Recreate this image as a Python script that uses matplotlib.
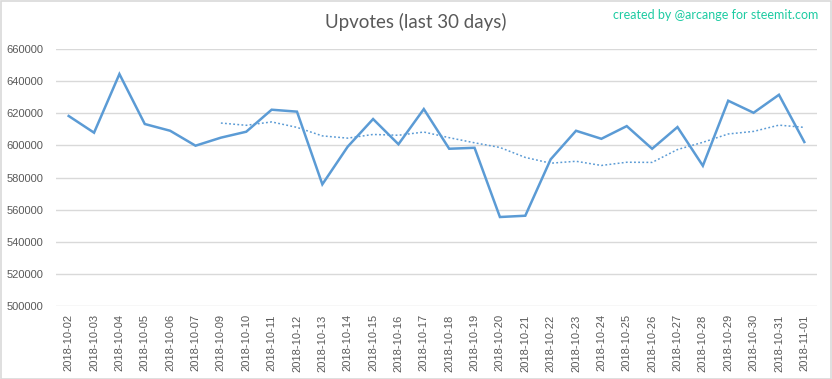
import matplotlib
matplotlib.use("Agg")
import matplotlib.pyplot as plt
from matplotlib.patches import Rectangle

dates = ["2018-10-02", "2018-10-03", "2018-10-04", "2018-10-05", "2018-10-06", "2018-10-07",
         "2018-10-09", "2018-10-10", "2018-10-11", "2018-10-12", "2018-10-13", "2018-10-14",
         "2018-10-15", "2018-10-16", "2018-10-17", "2018-10-18", "2018-10-19", "2018-10-20",
         "2018-10-21", "2018-10-22", "2018-10-23", "2018-10-24", "2018-10-25", "2018-10-26",
         "2018-10-27", "2018-10-28", "2018-10-29", "2018-10-30", "2018-10-31", "2018-11-01"]

upvotes = [618300, 607900, 644400, 613300, 609100, 599800, 604800, 608500, 622200, 621000,
           575750, 599200, 616400, 600700, 622600, 597900, 598500, 555400, 556200, 591300,
           609100, 604100, 612000, 597900, 611400, 587300, 627800, 620300, 631500, 602100]

# 7-period moving average trendline, starting at 2018-10-09
trend_start = 6
trend = [613900, 612500, 614600, 611200, 605900, 604500, 606800, 606300, 608300, 604800,
         601600, 598700, 592500, 588900, 590100, 587500, 589500, 589400, 597400, 601900,
         607100, 608700, 612600, 611200]

yticks = [500000, 520000, 540000, 560000, 580000, 600000, 620000, 640000, 660000]

plt.rcParams['font.family'] = ['Liberation Sans', 'DejaVu Sans']

fig = plt.figure(figsize=(8.32, 3.79), dpi=100)
ax = fig.add_axes([56/832, 73/379, (817-56)/832, (306-49)/379])

x = list(range(len(dates)))
ax.plot(x, upvotes, color='#5B9BD5', lw=1.8, solid_joinstyle='miter', zorder=3)
tx = x[trend_start:trend_start + len(trend)]
ax.plot(tx, trend, color='#5B9BD5', lw=1.1, linestyle=(0, (1.2, 1.5)), zorder=2)

ax.set_xlim(-0.5, len(dates) - 0.5)
ax.set_ylim(500000, 660000)
ax.set_yticks(yticks)
ax.set_yticklabels([str(v) for v in yticks])
ax.set_xticks(x)
ax.set_xticklabels(dates, rotation=90)
ax.tick_params(axis='both', length=0, labelsize=8, labelcolor='#595959')
ax.tick_params(axis='y', pad=9)
ax.tick_params(axis='x', pad=6)
ax.grid(axis='y', color='#D9D9D9', lw=1)
ax.set_axisbelow(True)
for s in ax.spines.values():
    s.set_visible(False)

fig.text(416/832, 1 - 22/379, "Upvotes (last 30 days)", ha='center', va='center',
         fontsize=13.5, color='#595959', family=['Lato', 'DejaVu Sans'])
fig.text(818/832, 1 - 15/379, "created by @arcange for steemit.com", ha='right', va='center',
         fontsize=9, color='#1DCBA2', family=['Lato', 'DejaVu Sans'])

fig.patches.append(Rectangle((0.5/832, 0.5/379), 1 - 1.5/832, 1 - 1.5/379,
                             transform=fig.transFigure, fill=False, edgecolor='#D9D9D9', lw=1.2))

fig.savefig("out.png", dpi=100)
